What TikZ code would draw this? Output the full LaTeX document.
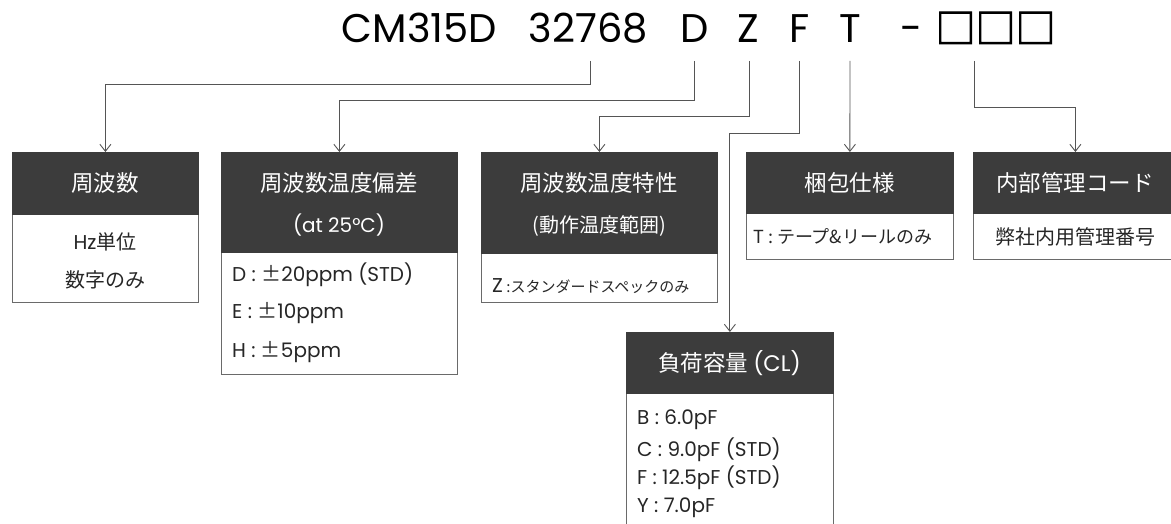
\documentclass[tikz,border=0pt]{standalone}
\usepackage{fontspec}
\setmainfont{Poppins}
\newfontfamily\jp{Noto Sans CJK JP}
\newfontfamily\jpbold[FakeBold=2.5]{Noto Sans CJK JP}
\usetikzlibrary{arrows.meta}
\definecolor{hdr}{HTML}{3C3C3C}
\definecolor{ln}{HTML}{555555}
\definecolor{bd}{HTML}{6A6A6A}
\newcommand{\jpm}{{\jp ±}}
\tikzset{
  ttl/.style={inner sep=0, anchor=base, font=\fontsize{40}{44}\selectfont},
  hdrbox/.style={fill=hdr, draw=hdr, line width=0.8pt, anchor=north west, inner sep=0},
  bodybox/.style={fill=white, draw=bd, line width=0.9pt, anchor=north west, inner sep=0},
  htxt/.style={text=white, inner sep=0, font=\jp\fontsize{22.5}{26}\selectfont},
  hsub/.style={text=white, inner sep=0, font=\fontsize{20}{24}\selectfont},
  btxt/.style={text=black!85, inner sep=0, font=\jp\fontsize{20}{24}\selectfont},
  blat/.style={text=black!85, inner sep=0, anchor=west, font=\fontsize{20}{24}\selectfont},
  conn/.style={draw=ln, line width=0.9pt, -{Straight Barb[length=7pt,width=11pt]}},
}
\begin{document}
\begin{tikzpicture}[x=1pt,y=-1pt]
\useasboundingbox (0,0) rectangle (1171,524);
\clip (0,0) rectangle (1171,524);
\fill[white] (0,0) rectangle (1171,524);

% title
\node[ttl] (tcm) at (419.5,43) {CM315D};
\node[ttl] (tnum) at (588.5,43) {32768};
\node[ttl] (tD) at (694.5,43) {D};
\node[ttl] (tZ) at (748,43) {Z};
\node[ttl] (tF) at (800,43) {F};
\node[ttl] (tT) at (850,43) {T};
\node[ttl] (tdash) at (911.5,43) {-};
\node[ttl, font=\jpbold\fontsize{40}{44}\selectfont] (tsq) at (995.5,43) {□□□};

% box 1
\node[bodybox, minimum width=186pt, minimum height=150pt] (b1) at (12,152) {};
\node[hdrbox, minimum width=186pt, minimum height=62pt] (h1) at (12,152) {};
\node[htxt] (h1t) at (105,183) {周波数};
\node[btxt] (b1a) at (105,242) {\fontspec{Poppins}Hz{\jp 単位}};
\node[btxt] (b1b) at (105,280) {数字のみ};

% box 2
\node[bodybox, minimum width=236pt, minimum height=222pt] (b2) at (221,152) {};
\node[hdrbox, minimum width=236pt, minimum height=100pt] (h2) at (221,152) {};
\node[htxt] (h2t) at (339,183) {周波数温度偏差};
\node[hsub] (h2s) at (339,225) {(at 25°C)};
\node[blat] (b2a) at (232,275) {D : \jpm20ppm (STD)};
\node[blat] (b2b) at (232,313) {E : \jpm10ppm};
\node[blat] (b2c) at (232,352) {H : \jpm5ppm};

% box 3
\node[bodybox, minimum width=236pt, minimum height=150pt] (b3) at (481,152) {};
\node[hdrbox, minimum width=236pt, minimum height=101pt] (h3) at (481,152) {};
\node[htxt] (h3t) at (599,183) {周波数温度特性};
\node[htxt, font=\jp\fontsize{20}{24}\selectfont] (h3s) at (599,226) {(動作温度範囲)};
\node[blat] (b3a) at (492,286) {Z\,{\jp\fontsize{15}{18}\selectfont :スタンダードスペックのみ}};

% box 4
\node[bodybox, minimum width=207pt, minimum height=107pt] (b4) at (746,152) {};
\node[hdrbox, minimum width=207pt, minimum height=61pt] (h4) at (746,152) {};
\node[htxt] (h4t) at (849.5,183) {梱包仕様};
\node[blat, font=\jp\fontsize{18}{22}\selectfont] (b4a) at (753,237) {T : テープ\&リールのみ};

% box 5
\node[bodybox, minimum width=204pt, minimum height=107pt] (b5) at (973,152) {};
\node[hdrbox, minimum width=204pt, minimum height=61pt] (h5) at (973,152) {};
\node[htxt] (h5t) at (1075,183) {内部管理コード};
\node[btxt] (b5a) at (1075,237) {弊社内用管理番号};

% box 6
\node[bodybox, minimum width=207pt, minimum height=220pt] (b6) at (626,332) {};
\node[hdrbox, minimum width=207pt, minimum height=61pt] (h6) at (626,332) {};
\node[htxt] (h6t) at (729.5,363) {負荷容量 {\fontspec{Poppins}(CL)}};
\node[blat] (b6a) at (637,420) {B : 6.0pF};
\node[blat] (b6b) at (637,450) {C : 9.0pF (STD)};
\node[blat] (b6c) at (637,478) {F : 12.5pF (STD)};
\node[blat] (b6d) at (637,508) {Y : 7.0pF};

% connectors
\coordinate (s1) at (590,61);
\coordinate (s2) at (694,61);
\coordinate (s3) at (749,61);
\coordinate (s4) at (799,61);
\coordinate (s5) at (850,61);
\coordinate (s6) at (974,61);
\draw[conn] (s1) -- ++(0,23) -| (h1.north);
\draw[conn] (s2) -- ++(0,39) -| (h2.north);
\draw[conn] (s3) -- ++(0,55) -| (h3.north);
\draw[conn] (s4) -- ++(0,72) -| (h6.north);
\draw[conn] (s5) -- (h4.north);
\draw[conn] (s6) -- ++(0,46) -| (h5.north);
\end{tikzpicture}
\end{document}
